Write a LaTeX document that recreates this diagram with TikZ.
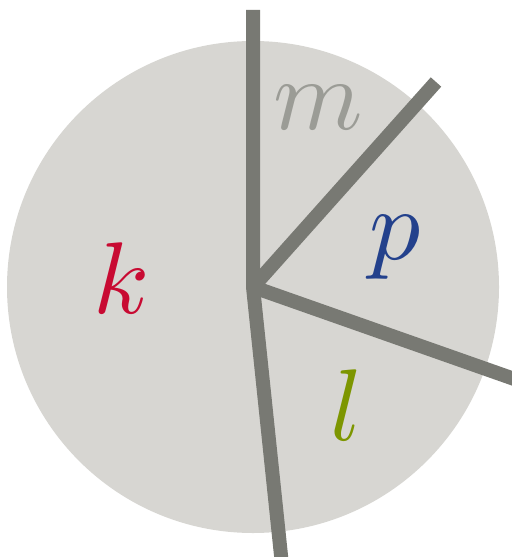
\documentclass[tikz,border=0pt]{standalone}
\definecolor{disc}{RGB}{215,214,210}
\definecolor{spoke}{RGB}{120,121,115}
\definecolor{mcol}{RGB}{155,156,150}
\definecolor{pcol}{RGB}{35,65,140}
\definecolor{kcol}{RGB}{200,10,50}
\definecolor{lcol}{RGB}{125,150,0}
\begin{document}
\begin{tikzpicture}[x=0.02cm,y=-0.02cm,
  spokeline/.style={draw=spoke,line width=0.28cm,line join=miter},
  lab/.style={scale=5.8}]
\useasboundingbox (0,0) rectangle (511,557);
\fill[disc] (253,287) circle (246);
\coordinate (c) at (253,287);
\coordinate (t) at (253,10);
\coordinate (ur) at (436,82);
\coordinate (r) at (520,381);
\coordinate (b) at (282,565);
\draw[spokeline] (c) -- (ur);
\draw[spokeline] (c) -- (r);
\draw[spokeline] (t) -- (c) -- (b);
\node[lab,text=mcol] (m) at (318,108) {$m$};
\node[lab,text=pcol] (p) at (395,247) {$p$};
\node[lab,text=kcol] (k) at (122,278) {$k$};
\node[lab,text=lcol] (l) at (347,405) {$l$};
\end{tikzpicture}
\end{document}
